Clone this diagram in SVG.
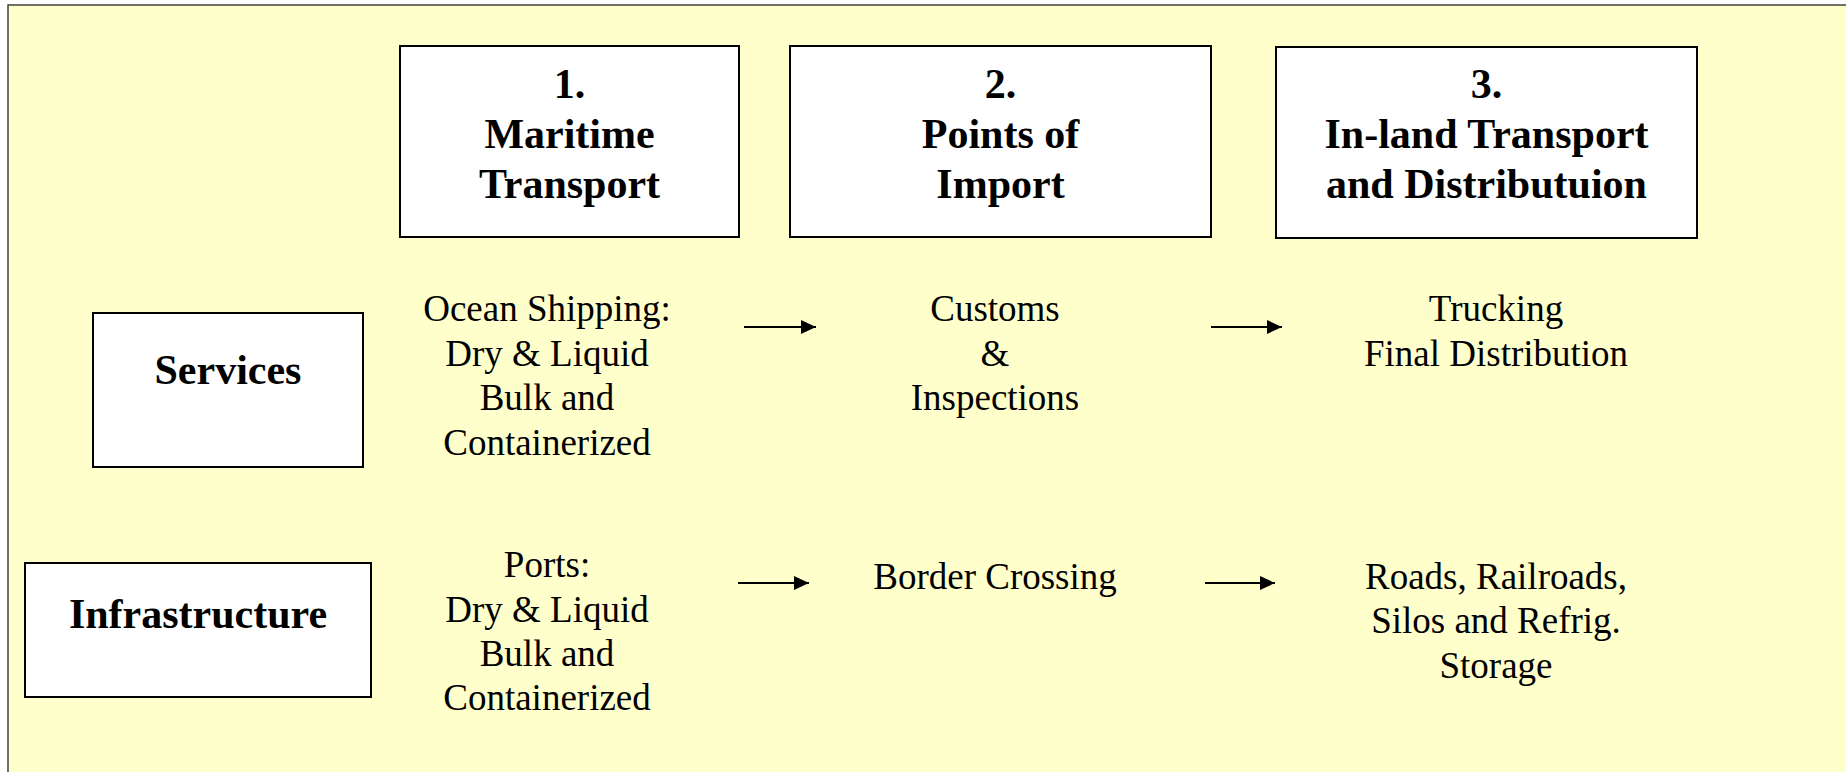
<svg xmlns="http://www.w3.org/2000/svg" width="1846" height="772" viewBox="0 0 1846 772">
  <style>
    .box { fill: #ffffff; stroke: #000000; stroke-width: 2; }
    .hdr { font-family: "Liberation Serif", "Times New Roman", serif; font-weight: bold; font-size: 42px; fill: #000; text-anchor: middle; }
    .txt { font-family: "Liberation Serif", "Times New Roman", serif; font-size: 37px; fill: #000; text-anchor: middle; }
    .arrow { stroke: #000; stroke-width: 2; fill: none; marker-end: url(#ah); }
  </style>
  <defs>
    <marker id="ah" markerUnits="userSpaceOnUse" markerWidth="16" markerHeight="14" refX="15" refY="7" orient="auto">
      <path d="M0,0 L15,7 L0,14 Z" fill="#000"/>
    </marker>
  </defs>
  <rect x="8" y="5" width="1900" height="800" fill="#ffffcc" stroke="#404040" stroke-width="1.5"/>

  <g id="stage1">
    <rect class="box" x="400" y="46" width="339" height="191"/>
    <text class="hdr" x="569.5" y="98">1.</text>
    <text class="hdr" x="569.5" y="148">Maritime</text>
    <text class="hdr" x="569.5" y="198">Transport</text>
  </g>
  <g id="stage2">
    <rect class="box" x="790" y="46" width="421" height="191"/>
    <text class="hdr" x="1000.5" y="98">2.</text>
    <text class="hdr" x="1000.5" y="148">Points of</text>
    <text class="hdr" x="1000.5" y="198">Import</text>
  </g>
  <g id="stage3">
    <rect class="box" x="1276" y="47" width="421" height="191"/>
    <text class="hdr" x="1486.5" y="98">3.</text>
    <text class="hdr" x="1486.5" y="148">In-land Transport</text>
    <text class="hdr" x="1486.5" y="198">and Distributuion</text>
  </g>

  <g id="services">
    <rect class="box" x="93" y="313" width="270" height="154"/>
    <text class="hdr" x="228" y="384">Services</text>
  </g>
  <g id="infrastructure">
    <rect class="box" x="25" y="563" width="346" height="134"/>
    <text class="hdr" x="198" y="628">Infrastructure</text>
  </g>

  <g id="ocean-shipping">
    <text class="txt" x="547" y="321">Ocean Shipping:</text>
    <text class="txt" x="547" y="366">Dry &amp; Liquid</text>
    <text class="txt" x="547" y="410">Bulk and</text>
    <text class="txt" x="547" y="455">Containerized</text>
  </g>
  <g id="customs">
    <text class="txt" x="995" y="321">Customs</text>
    <text class="txt" x="995" y="366">&amp;</text>
    <text class="txt" x="995" y="410">Inspections</text>
  </g>
  <g id="trucking">
    <text class="txt" x="1496" y="321">Trucking</text>
    <text class="txt" x="1496" y="366">Final Distribution</text>
  </g>

  <g id="ports">
    <text class="txt" x="547" y="577">Ports:</text>
    <text class="txt" x="547" y="622">Dry &amp; Liquid</text>
    <text class="txt" x="547" y="666">Bulk and</text>
    <text class="txt" x="547" y="710">Containerized</text>
  </g>
  <g id="border-crossing">
    <text class="txt" x="995" y="589">Border Crossing</text>
  </g>
  <g id="roads">
    <text class="txt" x="1496" y="589">Roads, Railroads,</text>
    <text class="txt" x="1496" y="633">Silos and Refrig.</text>
    <text class="txt" x="1496" y="678">Storage</text>
  </g>

  <g id="connectors">
    <line class="arrow" x1="744" y1="327" x2="816" y2="327"/>
    <line class="arrow" x1="1211" y1="327" x2="1282" y2="327"/>
    <line class="arrow" x1="738" y1="583" x2="809" y2="583"/>
    <line class="arrow" x1="1205" y1="583" x2="1275" y2="583"/>
  </g>
</svg>
